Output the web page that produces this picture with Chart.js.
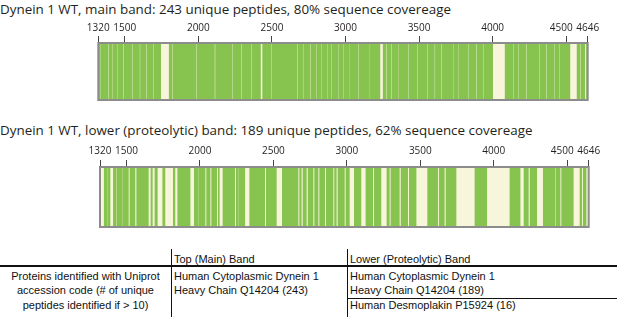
<!DOCTYPE html>
<html>
<head>
<meta charset="utf-8">
<script src="https://cdn.jsdelivr.net/npm/chart.js@4/dist/chart.umd.min.js"></script>
<style>
  html, body { margin:0; padding:0; background:#fff; width:617px; height:317px; overflow:hidden; }
  .abs { position:absolute; white-space:nowrap; }
  .title { font-family:'Open Sans', sans-serif; font-size:13.4px; line-height:16px; color:#231f20; }
  .tbl { font-family:'Liberation Sans', Arial, sans-serif; font-size:11px; line-height:13px; color:#111; }
  .vline { position:absolute; background:#111; width:1px; }
  .hline { position:absolute; background:#111; height:1px; }
  canvas { position:absolute; left:0; }
</style>
</head>
<body>
<div class="abs title" style="left:0;top:1px;">Dynein 1 WT, main band: 243 unique peptides, 80% sequence covereage</div>
<canvas id="c1" width="617" height="105" style="top:0px;"></canvas>
<div class="abs title" style="left:0;top:122px;">Dynein 1 WT, lower (proteolytic) band: 189 unique peptides, 62% sequence covereage</div>
<canvas id="c2" width="617" height="112" style="top:120px;"></canvas>

<!-- table -->
<div class="vline" style="left:171px;top:249px;height:68px;"></div>
<div class="vline" style="left:347px;top:249px;height:68px;"></div>
<div class="hline" style="left:0;top:265px;width:617px;height:2px;"></div>
<div class="hline" style="left:347px;top:298px;width:270px;"></div>
<div class="abs tbl" style="left:174px;top:253px;">Top (Main) Band</div>
<div class="abs tbl" style="left:350px;top:253px;">Lower (Proteolytic) Band</div>
<div class="abs tbl" style="left:0;width:171px;text-align:center;top:270px;">Proteins identified with Uniprot</div>
<div class="abs tbl" style="left:0;width:171px;text-align:center;top:284px;">accession code (# of unique</div>
<div class="abs tbl" style="left:0;width:171px;text-align:center;top:299px;">peptides identified if &gt; 10)</div>
<div class="abs tbl" style="left:174px;top:270px;">Human Cytoplasmic Dynein 1</div>
<div class="abs tbl" style="left:174px;top:284px;">Heavy Chain Q14204 (243)</div>
<div class="abs tbl" style="left:350px;top:270px;">Human Cytoplasmic Dynein 1</div>
<div class="abs tbl" style="left:350px;top:284px;">Heavy Chain Q14204 (189)</div>
<div class="abs tbl" style="left:350px;top:299px;">Human Desmoplakin P15924 (16)</div>

<script>
// ---- data ----
const seqStart = 1320;
const seqEnd = 4646;
const tickValues = [1320, 1500, 2000, 2500, 3000, 3500, 4000, 4500, 4646];

// covered residue ranges, main band
const mainBandCovered = [
  [1320,1334],[1340,1385],[1392,1415],[1421,1446],[1452,1487],[1494,1550],[1557,1600],
  [1607,1645],[1652,1690],[1697,1744],[1802,1822],[1829,1985],[1992,2109],[2117,2230],
  [2237,2291],[2298,2359],[2366,2422],[2437,2495],[2501,2669],[2676,2710],[2716,2760],
  [2767,2801],[2807,2835],[2841,2873],[2879,2903],[2909,2948],[2954,2982],[2988,3027],
  [3033,3083],[3090,3163],[3169,3234],[3256,3276],[3283,3310],[3317,3355],[3361,3423],
  [3430,3484],[3491,3552],[3559,3604],[3611,3650],[3657,3729],[3735,3763],[3769,3830],
  [3837,3887],[3894,3932],[3939,4000],[4085,4136],[4143,4170],[4177,4227],[4234,4317],
  [4324,4363],[4370,4419],[4426,4453],[4460,4525],[4574,4594],[4601,4626],[4638,4646]
];

// covered residue ranges, lower (proteolytic) band
const lowerBandCovered = [
  [1349,1366],[1372,1388],[1411,1427],[1434,1468],[1474,1513],[1524,1558],[1570,1649],
  [1667,1676],[1694,1710],[1747,1762],[1819,1830],[1849,1933],[1962,1989],[1994,2035],
  [2046,2069],[2080,2114],[2125,2132],[2157,2237],[2248,2259],[2264,2305],[2339,2441],
  [2452,2520],[2561,2668],[2679,2690],[2702,2724],[2736,2770],[2781,2804],[2815,2849],
  [2860,2906],[2917,2928],[2940,2983],[2994,3017],[3051,3096],[3130,3176],[3187,3232],
  [3273,3289],[3300,3357],[3369,3414],[3425,3471],[3550,3618],[3629,3663],[3675,3743],
  [3872,3952],[4110,4179],[4206,4235],[4247,4292],[4337,4417],[4424,4451],[4462,4496],
  [4500,4541],[4587,4598],[4609,4628]
];

// ---- style ----
const GREEN = '#86c34f';
const CREAM = '#f7f5da';
const FRAME = '#8c8c8c';

Chart.defaults.font.family = "'Open Sans', sans-serif";
Chart.defaults.color = '#231f20';

const trackPlugin = {
  id: 'track',
  beforeDatasetsDraw(chart) {
    const { ctx, chartArea: a } = chart;
    ctx.save();
    ctx.fillStyle = CREAM;
    ctx.fillRect(a.left, a.top, a.right - a.left, a.bottom - a.top);
    ctx.restore();
  },
  afterDatasetsDraw(chart) {
    const { ctx, chartArea: a } = chart;
    ctx.save();
    ctx.strokeStyle = FRAME;
    ctx.lineWidth = 2;
    ctx.strokeRect(a.left, a.top, a.right - a.left, a.bottom - a.top);
    ctx.restore();
  }
};

function makeChart(id, segments, pad, axisHeight, labelPad) {
  return new Chart(document.getElementById(id), {
    type: 'bar',
    data: {
      labels: ['band'],
      datasets: [{
        data: segments.map(s => ({ x: s, y: 'band' })),
        backgroundColor: GREEN,
        borderWidth: 0,
        borderSkipped: false,
        categoryPercentage: 1,
        barPercentage: 1
      }]
    },
    options: {
      indexAxis: 'y',
      responsive: false,
      animation: false,
      events: [],
      layout: { padding: pad },
      plugins: { legend: { display: false }, tooltip: { enabled: false }, title: { display: false } },
      scales: {
        y: { type: 'category', display: false },
        x: {
          type: 'linear',
          position: 'top',
          min: seqStart,
          max: seqEnd,
          afterBuildTicks(scale) { scale.ticks = tickValues.map(v => ({ value: v })); },
          afterFit(scale) { scale.height = axisHeight; },
          ticks: {
            autoSkip: false,
            maxRotation: 0,
            padding: labelPad,
            font: { size: 10 },
            color: '#231f20',
            callback: v => (v === 4500 ? '4500\u2002\u2002' : String(v))
          },
          grid: { drawOnChartArea: false, tickLength: 7, color: '#444', lineWidth: 1 },
          border: { display: false }
        }
      }
    },
    plugins: [trackPlugin]
  });
}

makeChart('c1', mainBandCovered, { left: 98.3, right: 29.3, top: 15, bottom: 5 }, 28, 1.5);
makeChart('c2', lowerBandCovered, { left: 100, right: 28.3, top: 19, bottom: 5 }, 28, 2.5);
</script>
</body>
</html>
